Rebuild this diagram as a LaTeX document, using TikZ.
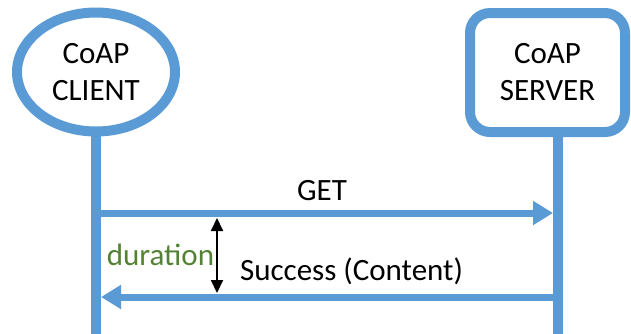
\documentclass[tikz,border=0pt]{standalone}
\usepackage{fontspec}
\setmainfont{Carlito}
\usetikzlibrary{arrows.meta,shapes.geometric}
\definecolor{coapblue}{RGB}{91,155,213}
\definecolor{durgreen}{RGB}{84,130,53}
\begin{document}
\begin{tikzpicture}[x=1pt,y=-1pt,
  every node/.style={font=\fontsize{31}{37}\selectfont},
  actorbox/.style={draw=coapblue,line width=10pt,fill=white,align=center,inner sep=0pt},
  life/.style={draw=coapblue,line width=10pt},
  msg/.style={draw=coapblue,line width=7pt,-{Triangle[length=20pt,width=23pt]}},
  span/.style={draw=black,line width=2pt,{Triangle[length=13pt,width=12pt]}-{Triangle[length=13pt,width=12pt]}},
  lbl/.style={anchor=base,inner sep=0pt}]
\useasboundingbox (0,0) rectangle (631,333);
% lifelines
\coordinate (cTop) at (96,120);
\coordinate (cBot) at (96,340);
\coordinate (sTop) at (558,120);
\coordinate (sBot) at (558,340);
\draw[life] (cTop) -- (cBot);
\draw[life] (sTop) -- (sBot);
% actors
\node[actorbox,ellipse,minimum width=158pt,minimum height=119pt] (client) at (96,72) {CoAP\\CLIENT};
\node[actorbox,rectangle,rounded corners=20pt,minimum width=155pt,minimum height=119pt] (server) at (547.5,72.5) {CoAP\\SERVER};
% messages
\coordinate (g1) at (96,213);
\coordinate (g2) at (553,213);
\coordinate (r1) at (553,297);
\coordinate (r2) at (101,297);
\draw[msg] (g1) -- (g2);
\draw[msg] (r1) -- (r2);
\node[lbl] (get) at (322,200) {GET};
\node[lbl] (succ) at (351.5,280) {Success (Content)};
\node[lbl,text=durgreen] (dur) at (160.5,265) {duration};
% duration span
\coordinate (d1) at (217,218);
\coordinate (d2) at (217,293);
\draw[span] (d1) -- (d2);
\end{tikzpicture}
\end{document}
